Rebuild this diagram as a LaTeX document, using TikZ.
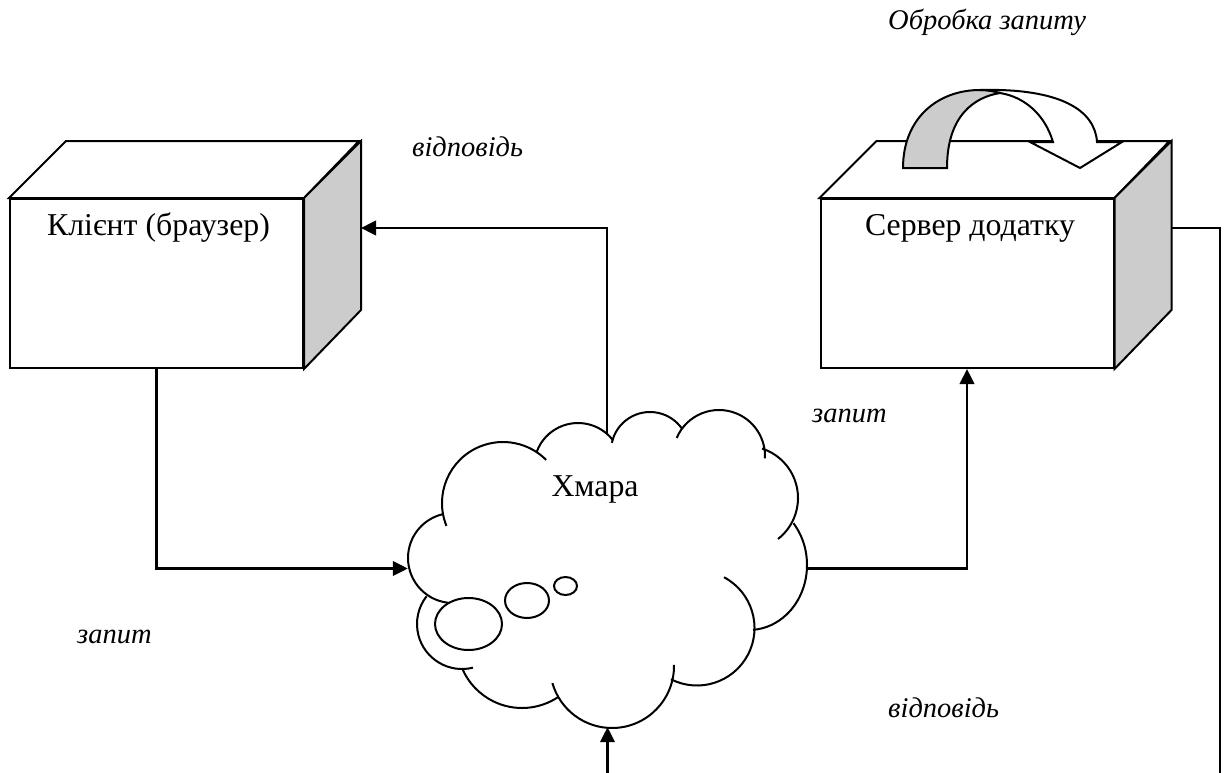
\documentclass[tikz,border=0pt]{standalone}
\usepackage{fontspec}
\setmainfont{Liberation Serif}
\usetikzlibrary{arrows.meta}
\begin{document}
\begin{tikzpicture}[x=1pt,y=1pt,yscale=-1,
  frontface/.style={draw=black,line width=2pt,fill=white,minimum width=293pt,minimum height=169pt,inner sep=0pt},
  topface/.style={draw=black,line width=2pt,fill=white,line join=miter},
  sideface/.style={draw=black,line width=2pt,fill=black!20,line join=miter},
  title/.style={inner sep=0pt,anchor=base,font=\fontsize{31.8}{37}\selectfont},
  note/.style={inner sep=0pt,anchor=base west,font=\fontsize{28.5}{34}\selectfont\itshape},
  link/.style={line width=2.4pt,-{Triangle[length=15pt,width=14.5pt]}},
  wire/.style={line width=2.4pt},
  puff/.style={line width=2pt},
  ribbonback/.style={draw=black,line width=2pt,fill=black!20,line join=miter},
  ribbonfront/.style={draw=black,line width=2pt,fill=white,line join=miter}]
\useasboundingbox (0,0) rectangle (1228,773);

% --- client box ---
\node[frontface] (client) at (156.5,283.5) {};
\draw[topface] (client.north west) -- ++(57,-57) -- ++(293,0) -- (client.north east) -- cycle;
\draw[sideface] (client.north east) -- ++(57,-57) -- ++(0,169) -- (client.south east) -- cycle;
\node[title] (clienttext) at (158.5,235) {Клієнт (браузер)};

% --- application server box ---
\node[frontface] (server) at (967,283.5) {};
\draw[topface] (server.north west) -- ++(57,-57) -- ++(293,0) -- (server.north east) -- cycle;
\draw[sideface] (server.north east) -- ++(57,-57) -- ++(0,169) -- (server.south east) -- cycle;
\node[title] (servertext) at (970,235) {Сервер додатку};

% curved arrow on top of the server (request processing)
\draw[ribbonback] (903,168) .. controls (903,118) and (938,90) .. (980,90)
  .. controls (987,90) and (994,91) .. (1000,93)
  .. controls (975,97) and (947,115) .. (947,168) -- cycle;
\draw[ribbonfront] (980,90) .. controls (1060,88) and (1095,110) .. (1097,142)
  -- (1122,142) -- (1080,168) -- (1030,142) -- (1053,142)
  .. controls (1045,115) and (1025,97) .. (1000,93)
  .. controls (994,91) and (987,90) .. (980,90) -- cycle;

% --- cloud ---
\node[inner sep=0pt,minimum width=399pt,minimum height=317pt] (cloud) at (607.5,568.5) {};
\draw[puff] (503,503) ++(158:61) arc[start angle=158,end angle=315,radius=61];
\draw[puff] (578,467) ++(200:44) arc[start angle=200,end angle=323,radius=44];
\draw[puff] (650,451) ++(192:39) arc[start angle=192,end angle=324,radius=39];
\draw[puff] (719,456) ++(203:46) arc[start angle=203,end angle=363,radius=46];
\draw[puff] (746,498) ++(288:52) arc[start angle=288,end angle=412,radius=52];
\draw[puff] (749,565) ++(-40:58 and 65) arc[start angle=-40,end angle=86,x radius=58,y radius=65];
\draw[puff] (697,628) ++(-62:57.5) arc[start angle=-62,end angle=117,radius=57.5];
\draw[puff] (612,666) ++(-1:62) arc[start angle=-1,end angle=164,radius=62];
\draw[puff] (522,643) ++(56:65) arc[start angle=56,end angle=157,radius=65];
\draw[puff] (462,624) ++(76:45) arc[start angle=76,end angle=218,radius=45];
\draw[puff] (453,558) ++(96:45) arc[start angle=96,end angle=257,radius=45];
% thought bubbles
\draw[puff] (468.5,624) ellipse[x radius=33.5,y radius=26];
\draw[puff] (527,600.5) ellipse[x radius=22,y radius=17.5];
\draw[puff] (565.5,586) ellipse[x radius=11.5,y radius=9];
\node[title] (cloudtext) at (595,496) {Хмара};

% --- connectors ---
\coordinate (cloudtop) at (607,434);
\coordinate (clientside) at (361,228);
\coordinate (serverside) at (1172,228);
\coordinate (rightend) at (1220,773);
\coordinate (bottomend) at (607.5,773);

\draw[link] (client.south) |- (cloud.west);
\draw[link] (cloudtop) |- (clientside);
\draw[link] (cloud.east) -| (server.south);
\draw[wire] (serverside) -| (rightend);
\draw[link] (bottomend) -- (cloud.south);

% --- labels ---
\node[note] (process) at (888,30) {Обробка запиту};
\node[note] (reply1) at (412,156) {відповідь};
\node[note] (req1) at (812,422) {запит};
\node[note] (req2) at (77,643) {запит};
\node[note] (reply2) at (888,717) {відповідь};
\end{tikzpicture}
\end{document}
